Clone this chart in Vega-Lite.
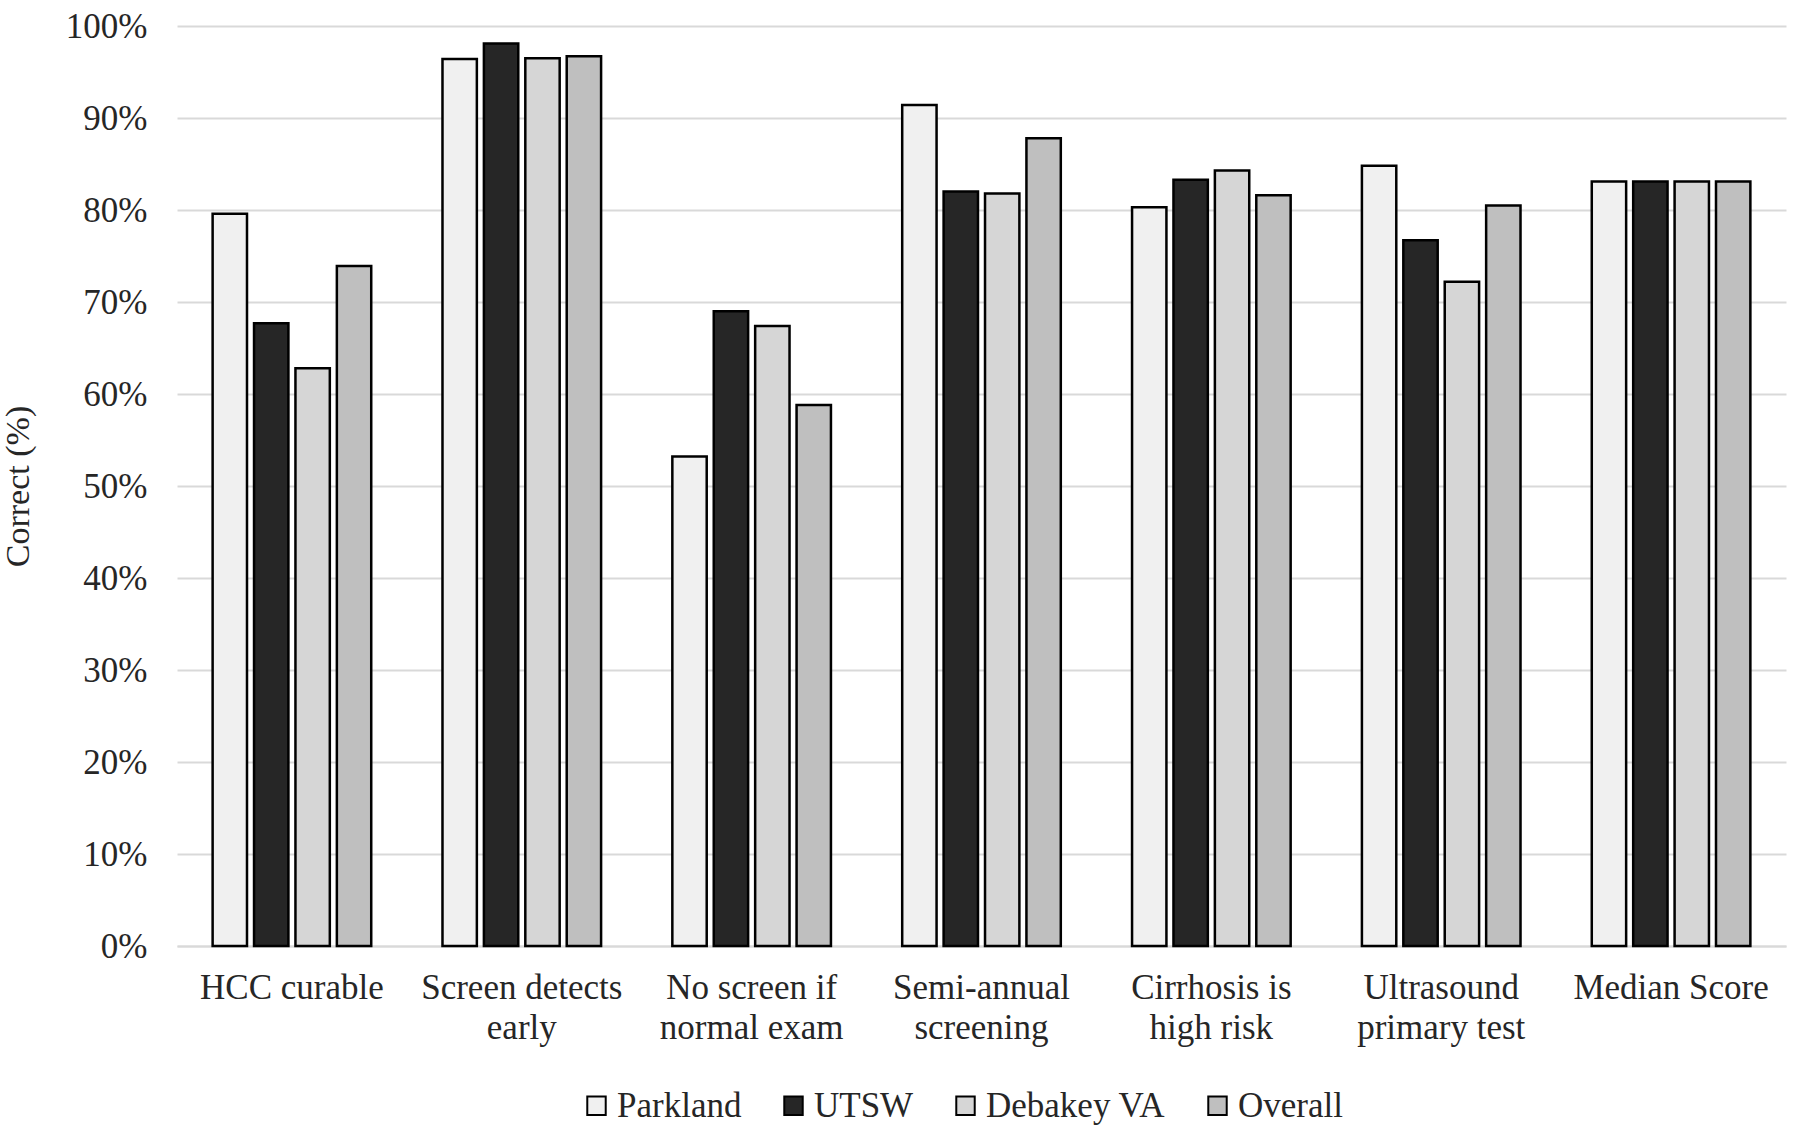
{
  "$schema": "https://vega.github.io/schema/vega-lite/v6.json",
  "width": 1609,
  "height": 920,
  "padding": {"left": 1, "top": 9, "right": 13, "bottom": 5},
  "background": "white",
  "config": {
    "font": "Liberation Serif",
    "view": {"stroke": null}
  },
  "data": {
    "values": [
      {"question": "HCC curable", "site": "Parkland", "pct": 79.6},
      {"question": "HCC curable", "site": "UTSW", "pct": 67.7},
      {"question": "HCC curable", "site": "Debakey VA", "pct": 62.8},
      {"question": "HCC curable", "site": "Overall", "pct": 73.9},
      {"question": "Screen detects early", "site": "Parkland", "pct": 96.4},
      {"question": "Screen detects early", "site": "UTSW", "pct": 98.1},
      {"question": "Screen detects early", "site": "Debakey VA", "pct": 96.5},
      {"question": "Screen detects early", "site": "Overall", "pct": 96.7},
      {"question": "No screen if normal exam", "site": "Parkland", "pct": 53.2},
      {"question": "No screen if normal exam", "site": "UTSW", "pct": 69.0},
      {"question": "No screen if normal exam", "site": "Debakey VA", "pct": 67.4},
      {"question": "No screen if normal exam", "site": "Overall", "pct": 58.8},
      {"question": "Semi-annual screening", "site": "Parkland", "pct": 91.4},
      {"question": "Semi-annual screening", "site": "UTSW", "pct": 82.0},
      {"question": "Semi-annual screening", "site": "Debakey VA", "pct": 81.8},
      {"question": "Semi-annual screening", "site": "Overall", "pct": 87.8},
      {"question": "Cirrhosis is high risk", "site": "Parkland", "pct": 80.3},
      {"question": "Cirrhosis is high risk", "site": "UTSW", "pct": 83.3},
      {"question": "Cirrhosis is high risk", "site": "Debakey VA", "pct": 84.3},
      {"question": "Cirrhosis is high risk", "site": "Overall", "pct": 81.6},
      {"question": "Ultrasound primary test", "site": "Parkland", "pct": 84.8},
      {"question": "Ultrasound primary test", "site": "UTSW", "pct": 76.7},
      {"question": "Ultrasound primary test", "site": "Debakey VA", "pct": 72.2},
      {"question": "Ultrasound primary test", "site": "Overall", "pct": 80.5},
      {"question": "Median Score", "site": "Parkland", "pct": 83.1},
      {"question": "Median Score", "site": "UTSW", "pct": 83.1},
      {"question": "Median Score", "site": "Debakey VA", "pct": 83.1},
      {"question": "Median Score", "site": "Overall", "pct": 83.1}
    ]
  },
  "mark": {"type": "bar", "stroke": "black", "strokeWidth": 2.5},
  "encoding": {
    "x": {
      "field": "question",
      "type": "nominal",
      "sort": ["HCC curable", "Screen detects early", "No screen if normal exam", "Semi-annual screening", "Cirrhosis is high risk", "Ultrasound primary test", "Median Score"],
      "scale": {"paddingInner": 0.31, "paddingOuter": 0.155},
      "axis": {
        "title": null,
        "labelAngle": 0,
        "labelFontSize": 35,
        "labelColor": "#262626",
        "labelPadding": 24,
        "labelLineHeight": 40,
        "labelLimit": 0,
        "ticks": false,
        "domain": true,
        "domainColor": "#d9d9d9",
        "domainWidth": 2,
        "labelExpr": "datum.value == 'Screen detects early' ? ['Screen detects', 'early'] : datum.value == 'No screen if normal exam' ? ['No screen if', 'normal exam'] : datum.value == 'Semi-annual screening' ? ['Semi-annual', 'screening'] : datum.value == 'Cirrhosis is high risk' ? ['Cirrhosis is', 'high risk'] : datum.value == 'Ultrasound primary test' ? ['Ultrasound', 'primary test'] : datum.value"
      }
    },
    "xOffset": {
      "field": "site",
      "type": "nominal",
      "sort": ["Parkland", "UTSW", "Debakey VA", "Overall"],
      "scale": {"paddingInner": 0.17, "paddingOuter": 0}
    },
    "y": {
      "field": "pct",
      "type": "quantitative",
      "scale": {"domain": [0, 100], "nice": false},
      "axis": {
        "title": "Correct (%)",
        "titleFontSize": 34,
        "titleFontWeight": "normal",
        "titleColor": "#262626",
        "titlePadding": 30,
        "values": [0, 10, 20, 30, 40, 50, 60, 70, 80, 90, 100],
        "labelExpr": "datum.value + '%'",
        "labelFontSize": 35,
        "labelColor": "#262626",
        "labelPadding": 30,
        "ticks": false,
        "domain": false,
        "grid": true,
        "gridColor": "#d9d9d9",
        "gridWidth": 2
      }
    },
    "fill": {
      "field": "site",
      "type": "nominal",
      "sort": ["Parkland", "UTSW", "Debakey VA", "Overall"],
      "scale": {"domain": ["Parkland", "UTSW", "Debakey VA", "Overall"], "range": ["#f0f0f0", "#262626", "#d6d6d6", "#bfbfbf"]},
      "legend": {
        "title": null,
        "orient": "none",
        "legendX": 402,
        "legendY": 1062,
        "direction": "horizontal",
        "symbolType": "square",
        "symbolSize": 340,
        "symbolStrokeColor": "black",
        "symbolStrokeWidth": 2,
        "labelFontSize": 35,
        "labelColor": "#262626",
        "labelOffset": 3,
        "labelLimit": 0,
        "columnPadding": 34
      }
    }
  }
}
